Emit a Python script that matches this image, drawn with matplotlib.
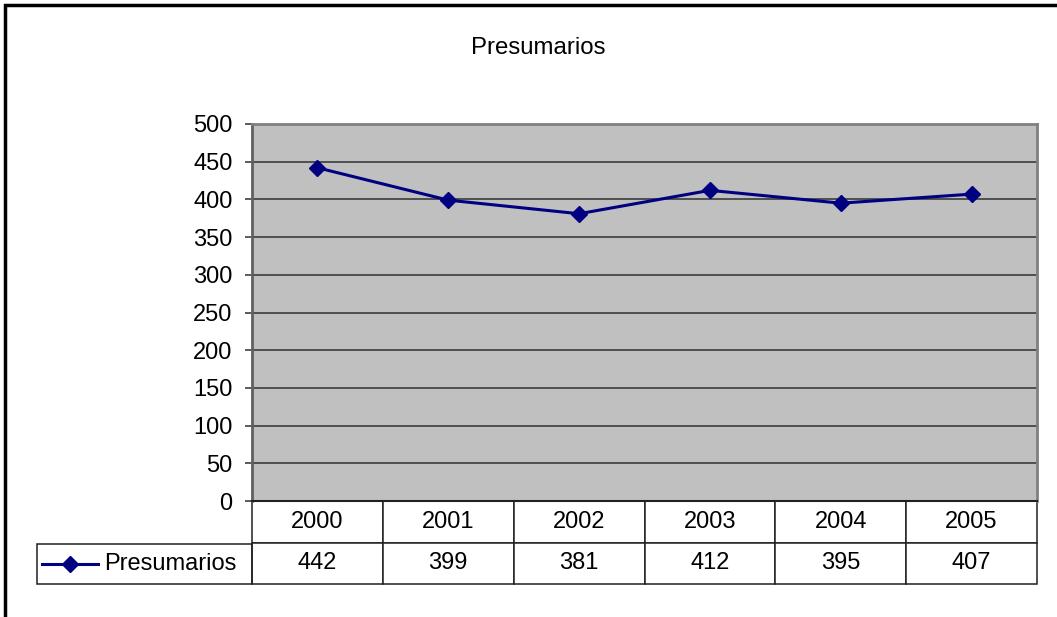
import matplotlib.pyplot as plt
from matplotlib.patches import Rectangle
from matplotlib.lines import Line2D

plt.rcParams['font.family'] = ['Liberation Sans', 'DejaVu Sans']

years = ['2000', '2001', '2002', '2003', '2004', '2005']
presumarios = [442, 399, 381, 412, 395, 407]
series_name = 'Presumarios'
yticks = list(range(0, 501, 50))

W, H = 1057, 617
fig = plt.figure(figsize=(W / 100, H / 100), dpi=100)

# plot area in pixel coordinates of the reference
left, right, top, bottom = 252, 1037, 124, 501
ax = fig.add_axes([left / W, (H - bottom) / H, (right - left) / W, (bottom - top) / H])
ax.set_facecolor('#c0c0c0')

x = list(range(len(years)))
ax.plot(x, presumarios, color='#000080', linewidth=2.2, marker='D',
        markersize=7.8, markerfacecolor='#000080', markeredgecolor='#000080', zorder=3)

ax.set_xlim(-0.5, len(years) - 0.5)
ax.set_ylim(0, 500)
ax.set_yticks(yticks)
ax.set_xticks([])
ax.tick_params(axis='y', direction='out', length=5, width=1.2, color='#404040',
               labelsize=17, pad=9)
ax.grid(axis='y', color='#303030', linewidth=1.1)
ax.set_axisbelow(True)
for s in ['top', 'right', 'left']:
    ax.spines[s].set_color('#808080')
    ax.spines[s].set_linewidth(2)
ax.spines['left'].set_color('#606060')
ax.spines['bottom'].set_color('#202020')
ax.spines['bottom'].set_linewidth(1.5)

# title
fig.text(538 / W, 1 - 48 / H, 'Presumarios', ha='center', va='center', fontsize=17.3)

# data table under the axis
ph = bottom - top
r1 = (544 - bottom) / ph
r2 = (584 - bottom) / ph
tbl = ax.table(cellText=[years, [str(v) for v in presumarios]], cellLoc='center',
               bbox=[0, -r2, 1, r2])
tbl.auto_set_font_size(False)
tbl.set_fontsize(17)
for (r, c), cell in tbl.get_celld().items():
    cell.set_edgecolor('#202020')
    cell.set_linewidth(1.1)
    cell.set_facecolor('white')
    cell.get_text().set_va('center')

# legend key cell
lx = (37 - left) / (right - left)
ax.add_patch(Rectangle((lx, -r2), -lx, r2 - r1, transform=ax.transAxes, fill=False,
                       edgecolor='#202020', linewidth=1.1, clip_on=False))
ymid = -(r1 + r2) / 2
ax.add_line(Line2D([(42 - left) / (right - left), (98 - left) / (right - left)], [ymid, ymid],
                   transform=ax.transAxes, color='#000080', linewidth=2.2, marker=None,
                   clip_on=False))
ax.add_line(Line2D([(70 - left) / (right - left)], [ymid], transform=ax.transAxes,
                   color='#000080', marker='D', markersize=7.8, clip_on=False))
ax.text((104 - left) / (right - left), ymid, series_name, transform=ax.transAxes,
        ha='left', va='center', fontsize=17)

# outer border (top and left only visible)
fig.patches.append(Rectangle((4.5 / W, -0.5), 2, 1.5 - 4.5 / H, transform=fig.transFigure,
                             fill=False, edgecolor='black', linewidth=2.5))

fig.savefig('out.png', dpi=100)
